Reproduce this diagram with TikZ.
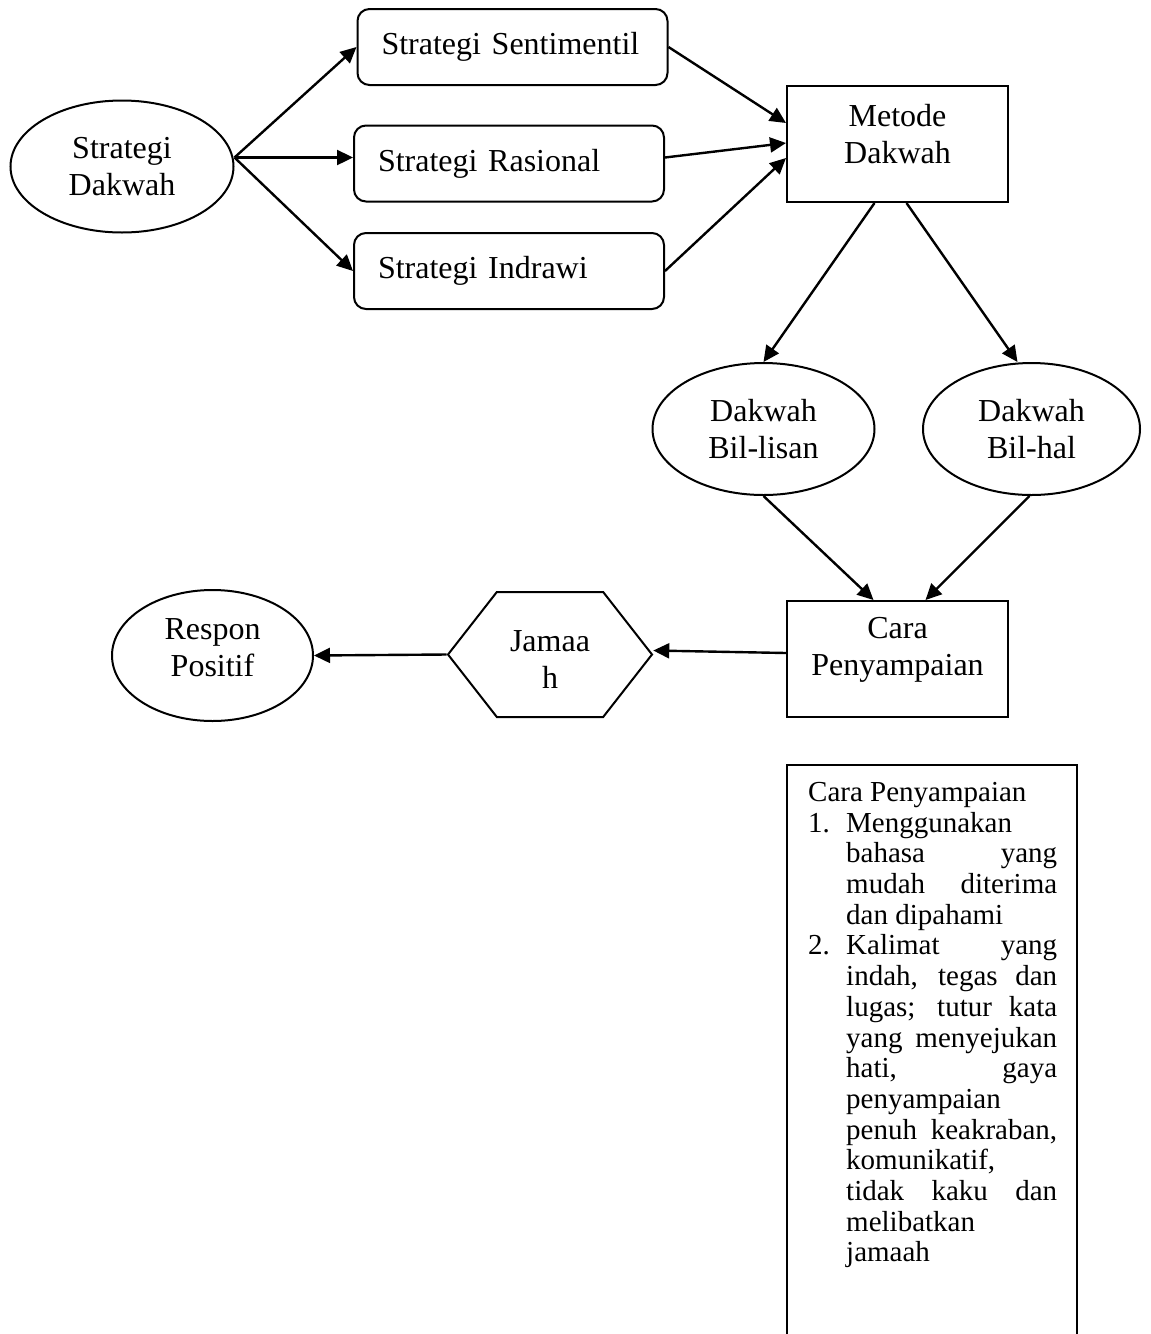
\documentclass[tikz,border=0pt]{standalone}
\usepackage{fontspec}
\setmainfont{Liberation Serif}
\usetikzlibrary{arrows.meta, shapes.geometric, shapes.symbols}

\newcommand{\noteitem}[2]{\par\hangindent=38pt\hangafter=1\noindent\makebox[38pt][l]{#1}#2}

\begin{document}
\begin{tikzpicture}[x=1pt, y=-1pt,
      every node/.style={font=\fontsize{32}{37}\selectfont},
      txt/.style={align=center},
      oval/.style={ellipse, draw, line width=2pt, inner sep=0pt,
                   minimum width=222pt, minimum height=132pt, align=center},
      sbox/.style={rectangle, rounded corners=12pt, draw, line width=2pt,
                   text width=262pt, inner xsep=24pt, minimum height=76pt, align=left},
      mbox/.style={rectangle, draw, line width=2pt, inner sep=0pt,
                   minimum width=221pt, minimum height=116pt},
      hexa/.style={signal, signal to=west and east, signal pointer angle=104,
                   draw, line width=2pt, inner sep=0pt,
                   minimum width=204pt, minimum height=125pt},
      note/.style={anchor=north west, text width=249pt, inner xsep=21pt, inner ysep=17pt,
                   align=justify, font=\fontsize{29}{30.7}\selectfont},
      arr/.style={-{Triangle[length=16pt, width=15pt]}, line width=2.4pt}]
      \useasboundingbox (0,0) rectangle (1151,1334);

      % strategi
      \node[oval, minimum width=223pt] (sd) at (122,166.5) {Strategi\\Dakwah};
      \foreach \nm/\x/\y/\lab in {sent/512.5/47/Strategi Sentimentil,
                                  rasi/509/163.5/Strategi Rasional,
                                  indr/509/271/Strategi Indrawi}
        \node[sbox] (\nm) at (\x,\y) {\lab};
      \node[mbox, label={[txt, yshift=9.5pt]center:{Metode\\Dakwah}}] (metode) at (897.5,144) {};

      % metode
      \node[oval] (lisan) at (763.5,429) {Dakwah\\Bil-lisan};
      \node[oval, minimum width=217pt] (hal) at (1031.5,429) {Dakwah\\Bil-hal};
      \node[mbox, label={[txt, yshift=9pt]center:{Cara\\Penyampaian}}] (cara) at (897.5,659) {};
      \node[hexa, label={[txt, yshift=-5.5pt]center:{Jamaa\\h}}] (jamaah) at (550,654.5) {};
      \node[oval, minimum width=201pt, minimum height=131pt,
            label={[txt, yshift=8pt]center:{Respon\\Positif}}] (respon) at (212.5,655.5) {};

      % connectors
      \draw[arr] ([yshift=9pt]sd.east) -- (sent.west);
      \draw[arr] ([yshift=9pt]sd.east) -- ([yshift=6pt]rasi.west);
      \draw[arr] ([yshift=9pt]sd.east) -- (indr.west);
      \draw[arr] (sent.east) -- ([yshift=21pt]metode.west);
      \draw[arr] ([yshift=6pt]rasi.east) -- ([yshift=1pt]metode.west);
      \draw[arr] (indr.east) -- ([yshift=-14pt]metode.west);
      \draw[arr] ([xshift=-23pt]metode.south) -- (lisan.north);
      \draw[arr] ([xshift=9pt]metode.south) -- ([xshift=-14pt]hal.north);
      \draw[arr] (lisan.south) -- ([xshift=-24pt]cara.north);
      \draw[arr] ([xshift=-2pt]hal.south) -- ([xshift=28pt]cara.north);
      \draw[arr] ([yshift=6pt]cara.west) -- ([yshift=4pt]jamaah.east);
      \draw[arr] (jamaah.west) -- (respon.east);

      % keterangan
      \node[note] (ket) at (787,765) {\hyphenpenalty=10000 \tolerance=10000 \hbadness=10000
        \noindent Cara Penyampaian
        \noteitem{1.}{Menggunakan\linebreak bahasa yang\linebreak mudah diterima\linebreak dan dipahami}
        \noteitem{2.}{Kalimat yang\linebreak indah, tegas dan\linebreak lugas; tutur kata\linebreak
          yang menyejukan\linebreak hati, gaya\linebreak penyampaian\linebreak
          penuh keakraban,\linebreak komunikatif,\linebreak tidak kaku dan\linebreak
          melibatkan\linebreak jamaah}\par};
      \draw[line width=2pt] (ket.north west) rectangle ++(290,600);
    \end{tikzpicture}
\end{document}
